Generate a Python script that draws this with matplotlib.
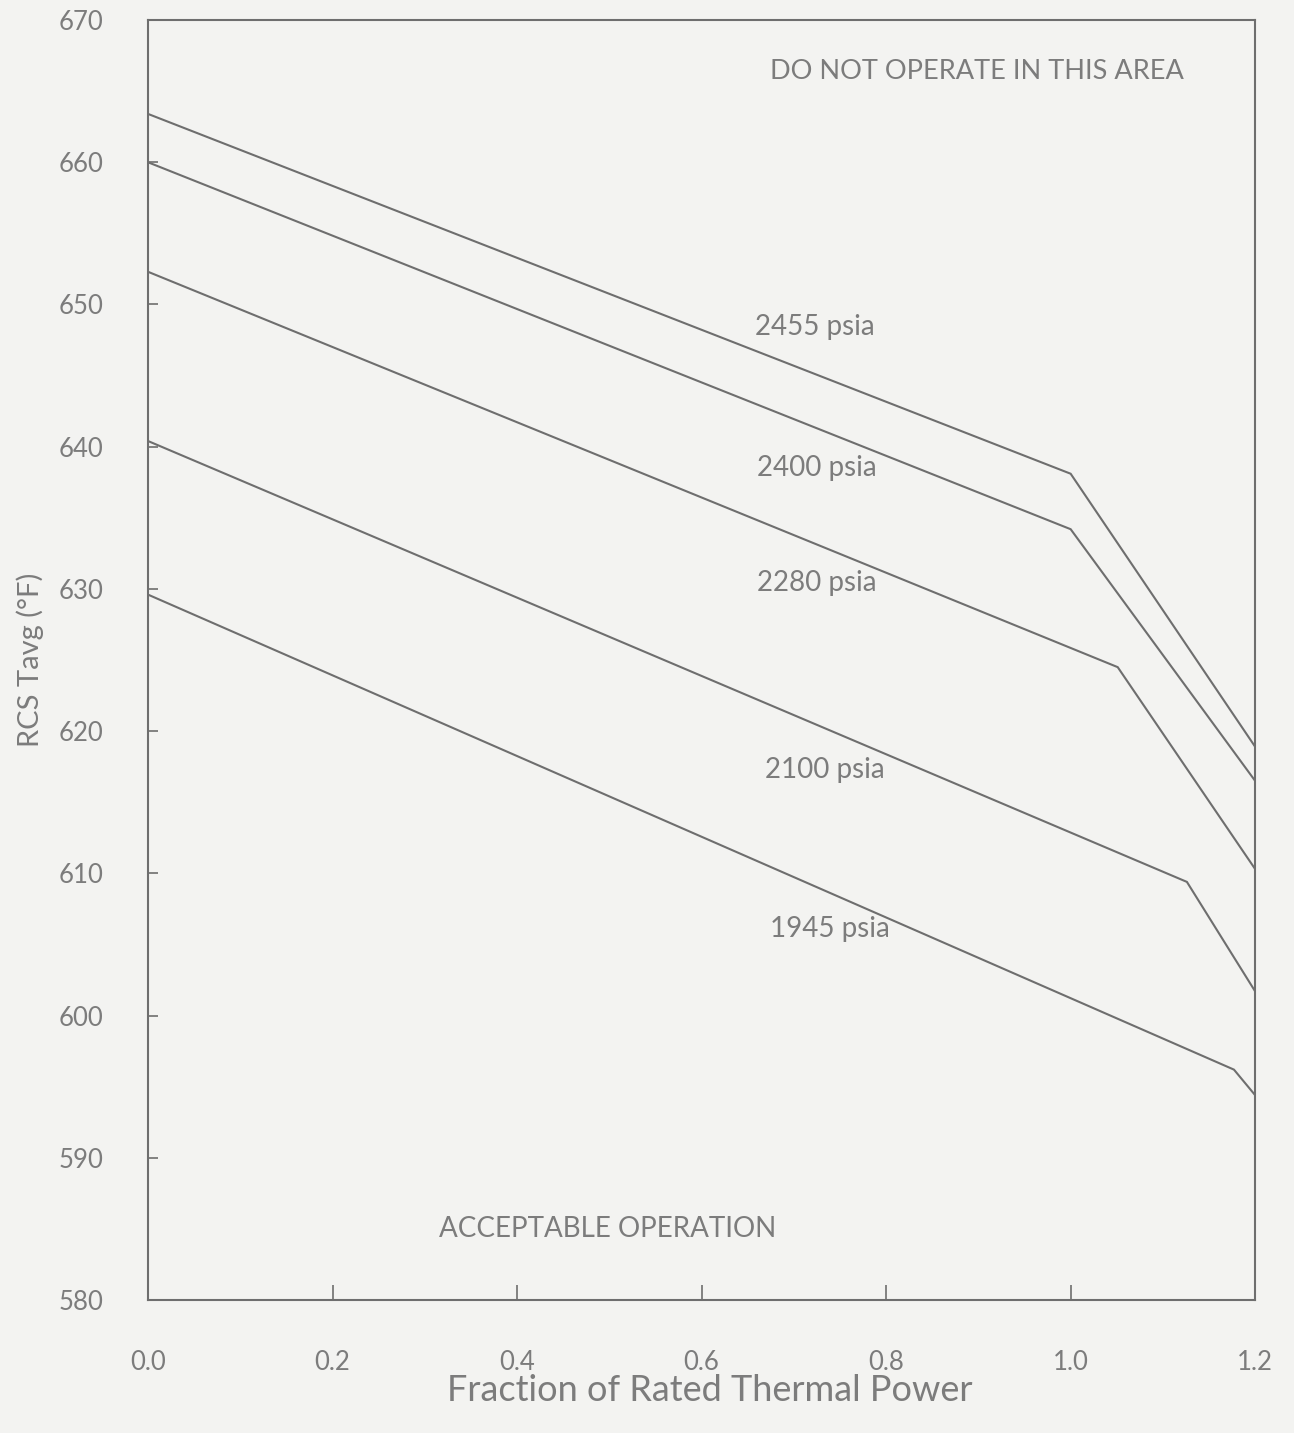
import matplotlib
matplotlib.use('Agg')
import matplotlib.pyplot as plt

# curve break points (fraction of power, Tavg degF)
psia_labels = ['2455 psia', '2400 psia', '2280 psia', '2100 psia', '1945 psia']
x_2455 = [0.0, 1.0, 1.2]
y_2455 = [663.4, 638.1, 618.9]
x_2400 = [0.0, 1.0, 1.2]
y_2400 = [660.0, 634.2, 616.5]
x_2280 = [0.0, 1.051, 1.2]
y_2280 = [652.3, 624.5, 610.3]
x_2100 = [0.0, 1.126, 1.2]
y_2100 = [640.4, 609.4, 601.7]
x_1945 = [0.0, 1.177, 1.2]
y_1945 = [629.6, 596.2, 594.4]

# label anchor positions (data coords)
label_x = [0.723, 0.725, 0.725, 0.733, 0.739]
label_y = [648.4, 638.5, 630.4, 617.3, 606.1]

x_ticks = [0.0, 0.2, 0.4, 0.6, 0.8, 1.0, 1.2]
y_ticks = [580, 590, 600, 610, 620, 630, 640, 650, 660, 670]

ink = '#6e6e6e'
txt = '#7c7c7c'
paper = '#f3f3f1'

plt.rcParams['font.family'] = ['Lato', 'DejaVu Sans']

fig = plt.figure(figsize=(12.94, 14.33), dpi=100, facecolor=paper)
ax = fig.add_axes([0.1144, 0.0928, 0.8556, 0.8932], facecolor=paper)

series = [(x_2455, y_2455), (x_2400, y_2400), (x_2280, y_2280),
          (x_2100, y_2100), (x_1945, y_1945)]
for (xs, ys), lab, lx, ly in zip(series, psia_labels, label_x, label_y):
    ax.plot(xs, ys, color=ink, lw=1.5, solid_joinstyle='miter')
    ax.text(lx, ly, lab, ha='center', va='center', fontsize=20, color=txt)

ax.text(0.898, 666.4, 'DO NOT OPERATE IN THIS AREA', ha='center', va='center',
        fontsize=19.5, color=txt)
ax.text(0.498, 585.0, 'ACCEPTABLE OPERATION', ha='center', va='center',
        fontsize=20, color=txt)

ax.set_xlim(0, 1.2)
ax.set_ylim(580, 670)
ax.set_xticks(x_ticks)
ax.set_xticklabels([f'{v:.1f}' for v in x_ticks])
ax.set_yticks(y_ticks)
ax.tick_params(direction='in', width=1.2, color=ink,
               labelcolor=txt, labelsize=18.5)
ax.tick_params(axis='y', pad=32, length=7)
ax.tick_params(axis='x', pad=36, length=11)

for sp in ax.spines.values():
    sp.set_color(ink)
    sp.set_linewidth(1.5)

ax.set_xlabel('Fraction of Rated Thermal Power', fontsize=26, color=txt)
ax.set_ylabel('RCS Tavg (°F)', fontsize=21, color=txt)
ax.xaxis.set_label_coords(0.507, -0.058)
ax.yaxis.set_label_coords(-0.094, 0.5)

fig.savefig('out.png', dpi=100, facecolor=paper)
